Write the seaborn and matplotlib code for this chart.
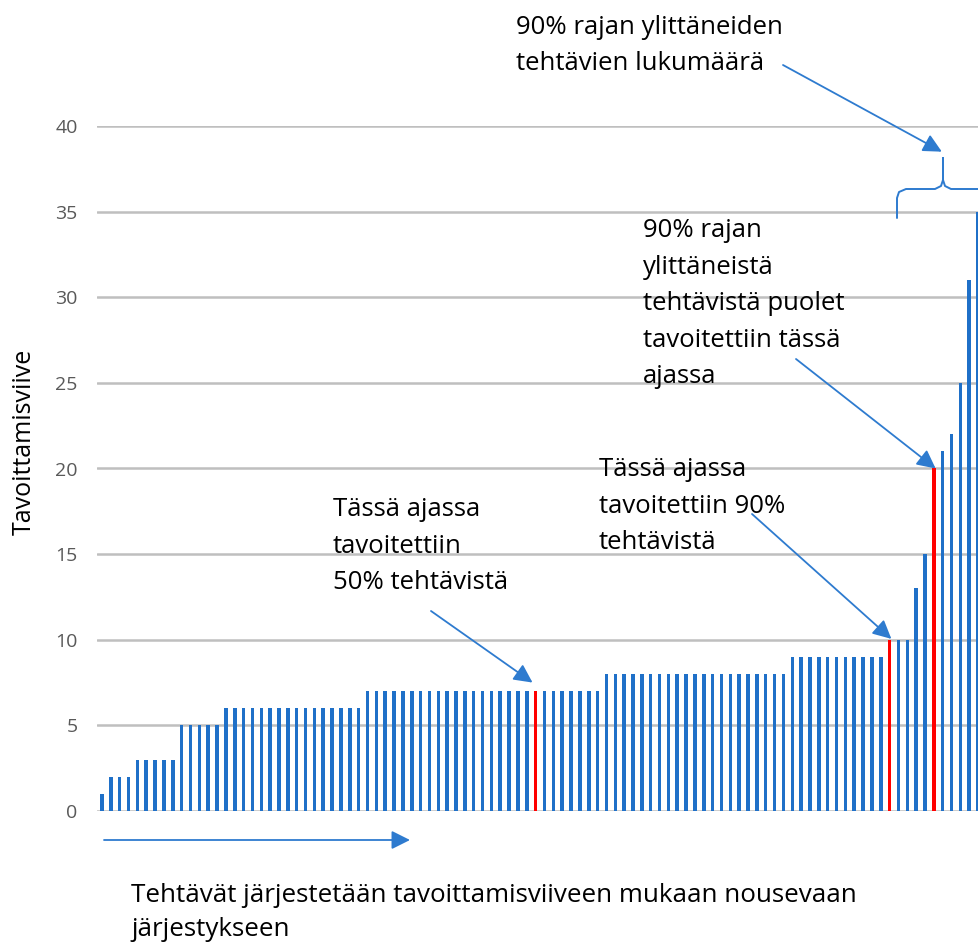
import numpy as np
import pandas as pd
import matplotlib
matplotlib.use("Agg")
import matplotlib.pyplot as plt
import seaborn as sns

# Delay levels and how many tasks have each delay
delays = [1, 2, 3, 5, 6, 7, 8, 9, 10, 13, 15, 20, 21, 22, 25, 31, 35]
counts = [1, 3, 5, 5, 16, 27, 21, 11, 3, 1, 1, 1, 1, 1, 1, 1, 1]

# Highlighted tasks: 50 %, 90 % and the middle of the tasks past 90 %
highlight = [49, 89, 94]

yticks = [0, 5, 10, 15, 20, 25, 30, 35, 40]

values = np.repeat(delays, counts)
df = pd.DataFrame({"task": np.arange(len(values)), "delay": values})

blue = "#1F70C8"
red = "#FF0000"
arrow_col = "#2E7BCF"
colors = {t: (red if t in highlight else blue) for t in df["task"]}

sns.set_theme(style="white")
plt.rcParams["font.family"] = ["Open Sans", "DejaVu Sans"]

fig = plt.figure(figsize=(9.79, 9.46), dpi=100)
ax = fig.add_axes([97 / 979, 135 / 946, 882 / 979, 685 / 946])

sns.barplot(data=df, x="task", y="delay", hue="task", palette=colors,
            legend=False, width=0.4, dodge=False, ax=ax, saturation=1,
            linewidth=0)

ax.set_xlim(-0.565, 99.1)
ax.set_ylim(0, 40)
ax.set_yticks(yticks)
ax.set_xticks([])
ax.set_xlabel("")
ax.set_ylabel("")
for s in ax.spines.values():
    s.set_visible(False)
ax.yaxis.grid(True, color="#BFBFBF", lw=1.8)
ax.set_axisbelow(True)
ax.tick_params(axis="y", length=0, pad=14, labelsize=14, labelcolor="#595959")

fig.text(24, 946 - 442, "Tavoittamisviive", transform=None, rotation=90,
         ha="center", va="center", fontsize=18, color="#000000")


def fy(y):
    return 946 - y


# va="baseline" puts the last line on the given y
txt = dict(fontsize=18.5, color="#000000", linespacing=1.6, va="baseline",
           ha="left", transform=None)
fig.text(333, fy(515 + 2 * 37), "Tässä ajassa\ntavoitettiin\n50% tehtävistä", **txt)
fig.text(599, fy(477 + 2 * 36), "Tässä ajassa\ntavoitettiin 90%\ntehtävistä", **txt)
fig.text(643, fy(233 + 4 * 37.5), "90% rajan\nylittäneistä\ntehtävistä puolet\ntavoitettiin tässä\najassa", **txt)
fig.text(516, fy(33 + 37), "90% rajan ylittäneiden\ntehtävien lukumäärä", **txt)
fig.text(131, fy(898 + 38), "Tehtävät järjestetään tavoittamisviiveen mukaan nousevaan\njärjestykseen",
         **dict(txt, fontsize=18.7, linespacing=1.5))

aprops = dict(arrowstyle="-|>", color=arrow_col, lw=1.3, mutation_scale=28,
              shrinkA=0, shrinkB=0)
# arrows: tip in data coords, tail in figure pixels
ax.annotate("", xy=(48.65, 7.5), xycoords="data", xytext=(431, fy(611)),
            textcoords="figure pixels", arrowprops=aprops, annotation_clip=False)
ax.annotate("", xy=(89.2, 10.05), xycoords="data", xytext=(752, fy(514)),
            textcoords="figure pixels", arrowprops=aprops, annotation_clip=False)
ax.annotate("", xy=(94.2, 20.0), xycoords="data", xytext=(796, fy(359)),
            textcoords="figure pixels", arrowprops=aprops, annotation_clip=False)
ax.annotate("", xy=(94.9, 38.5), xycoords="data", xytext=(783, fy(65)),
            textcoords="figure pixels", arrowprops=aprops, annotation_clip=False)
ax.annotate("", xy=(410, fy(840)), xycoords="figure pixels", xytext=(104, fy(840)),
            textcoords="figure pixels", arrowprops=aprops, annotation_clip=False)

# curly brace over the tasks past the 90 % limit (figure pixels)
bx = [897, 897, 899, 906, 935, 941, 943, 943, 943, 945, 951, 1000]
by = [218, 198, 192, 189, 189, 186, 180, 158, 180, 186, 189, 189]
fig.add_artist(plt.Line2D(bx, [fy(v) for v in by], transform=None,
                          color=arrow_col, lw=1.4))

fig.savefig("out.png", dpi=100)
